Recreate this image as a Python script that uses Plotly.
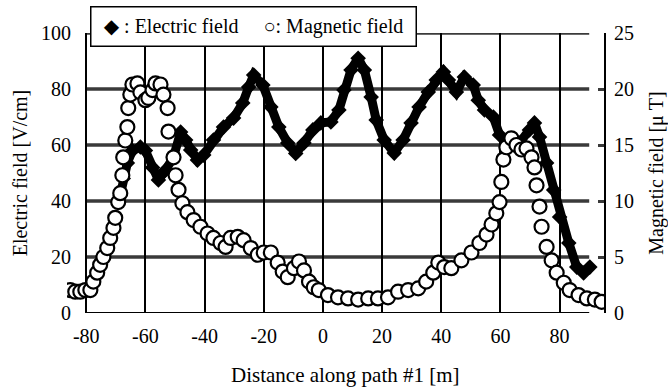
import plotly.graph_objects as go

# Electric field (left axis, V/cm)
e_x = [-68.5, -67.5, -66.1, -64.4, -61.7, -60.0, -57.6, -55.6, -53.2, -50.5, -48.1, -46.4,
       -44.7, -42.4, -40.3, -37.0, -33.6, -30.2, -27.1, -25.1, -23.4, -20.3, -17.6, -14.9,
       -11.9, -9.2, -6.4, -3.4, -0.7, 2.7, 5.4, 7.1, 9.5, 11.9, 14.0, 16.3, 18.0, 20.7,
       24.1, 27.1, 29.8, 32.5, 35.6, 38.3, 40.7, 42.4, 45.1, 47.8, 50.8, 52.5, 54.6, 57.6,
       59.7, 62.7, 66.4, 69.8, 71.5, 73.2, 75.6, 78.0, 80.0, 83.1, 85.8, 88.1, 90.2]
e_y = [42, 48, 53.6, 58, 59.3, 58, 52, 47.5, 51, 55.7, 64.6, 61.8,
       58.2, 54.6, 56.4, 61.8, 66.4, 69.6, 75, 80.7, 85, 81.4, 73.6, 66.4,
       60.7, 57, 60.7, 65.4, 67.9, 68.2, 72.5, 79.6, 86.8, 91, 86.8, 77.1, 68.9, 61.8,
       57.1, 61.8, 67.9, 73.6, 78.9, 83.2, 86.1, 83.2, 78.9, 84.3, 81.4, 76, 72.5, 70,
       63.6, 60.7, 60.7, 65.4, 67.9, 62.9, 53.6, 43.9, 34.3, 25, 16.4, 14.3, 16.4]

# Magnetic field (right axis, uT)
m_x = [-85.4, -83.7, -82.0, -80.3, -78.6, -77.6, -76.3, -75.3, -74.2, -72.9, -71.9, -70.8,
       -70.2, -69.2, -68.5, -67.8, -67.5, -66.8, -66.1, -65.8, -65.1, -64.4, -62.7, -61.7,
       -60.0, -59.0, -57.6, -56.6, -54.9, -53.9, -52.5, -52.2, -50.5, -49.8, -48.8, -47.5,
       -45.8, -43.7, -41.4, -39.0, -37.0, -34.6, -32.9, -31.2, -28.8, -26.8, -24.4, -22.0,
       -20.0, -17.6, -15.3, -13.6, -11.9, -9.8, -8.1, -6.4, -4.7, -3.1, -1.4, 1.7, 5.1,
       8.5, 11.9, 15.3, 18.6, 22.0, 25.4, 28.8, 32.2, 34.9, 37.3, 39.0, 41.0, 43.4, 46.8,
       50.2, 52.9, 55.3, 57.0, 58.6, 59.7, 60.3, 61.0, 62.0, 63.7, 65.4, 67.1, 68.8, 70.5,
       71.5, 72.2, 73.2, 73.9, 75.6, 77.3, 79.0, 81.4, 83.4, 86.4, 89.2, 91.9, 94.2]
m_y = [2.05, 1.9, 1.9, 2.05, 2.05, 2.8, 3.6, 4.3, 5.0, 5.8, 6.7, 7.6,
       8.5, 9.9, 10.7, 12.3, 13.9, 15.4, 16.6, 18.3, 19.5, 20.4, 20.5, 19.7,
       19.0, 19.2, 19.9, 20.5, 20.4, 19.5, 18.3, 16.2, 13.9, 12.3, 11.0, 9.8,
       9.0, 8.3, 7.7, 7.1, 6.7, 6.25, 5.9, 6.7, 6.8, 6.5, 5.8, 5.2,
       5.4, 5.4, 4.5, 3.7, 3.2, 4.0, 4.6, 3.8, 2.8, 2.3, 2.05, 1.6, 1.4,
       1.3, 1.2, 1.3, 1.3, 1.4, 1.9, 2.05, 2.2, 2.8, 3.6, 4.5, 4.1, 4.0, 4.7,
       5.4, 6.25, 7.0, 7.9, 8.9, 9.9, 11.7, 13.7, 14.8, 15.6, 15.0, 14.6, 14.7, 13.9,
       13.0, 11.4, 9.5, 7.7, 5.9, 4.7, 3.6, 2.7, 2.05, 1.6, 1.3, 1.2, 1.0]

x_ticks = [-80, -60, -40, -20, 0, 20, 40, 60, 80]
y_ticks = [0, 20, 40, 60, 80, 100]
y2_ticks = [0, 5, 10, 15, 20, 25]

FONT = "Liberation Serif, Times New Roman, DejaVu Serif, serif"
TF = dict(family=FONT, size=20, color="black")

fig = go.Figure()
fig.add_trace(go.Scatter(
    x=e_x, y=e_y, mode="lines+markers", name="Electric field",
    line=dict(color="black", width=9),
    marker=dict(symbol="diamond", size=12, color="black"),
    showlegend=False))
fig.add_trace(go.Scatter(
    x=m_x, y=m_y, mode="markers", name="Magnetic field", yaxis="y2",
    marker=dict(symbol="circle", size=14, color="white",
                line=dict(color="black", width=2.2)),
    showlegend=False))

# horizontal gridlines ending short of the right axis
for v in y_ticks[1:]:
    fig.add_shape(type="line", xref="x", yref="y", x0=-80, x1=90, y0=v, y1=v,
                  line=dict(color="#3a3a3a", width=3.5), layer="below")
fig.add_shape(type="line", xref="x", yref="y", x0=-80, x1=90, y0=0, y1=0,
              line=dict(color="black", width=2), layer="below")

fig.update_layout(
    width=668, height=392,
    margin=dict(l=67, r=64, t=33, b=79, autoexpand=False),
    paper_bgcolor="white", plot_bgcolor="white",
    font=dict(family=FONT, size=20, color="black"),
    xaxis=dict(range=[-86.5, 95], tickvals=x_ticks, ticktext=[str(t) for t in x_ticks],
               showgrid=True, gridcolor="black", gridwidth=2, zeroline=False,
               showline=False, ticks="", ticklabelstandoff=9, tickfont=TF,
               automargin=False),
    yaxis=dict(range=[0, 100], tickvals=y_ticks, showgrid=False, zeroline=False,
               showline=False, ticks="", ticklabelstandoff=-5, tickfont=TF,
               automargin=False,
               title=dict(text="Electric field [V/cm]", standoff=8, font=TF)),
    yaxis2=dict(range=[0, 25], tickvals=y2_ticks, overlaying="y", side="right",
                showgrid=False, zeroline=False, showline=True, linecolor="black",
                linewidth=2, ticks="inside", ticklen=6, tickwidth=3, tickcolor="#3a3a3a",
                ticklabelstandoff=4, tickfont=TF, automargin=False,
                title=dict(text="Magnetic field [\u03bc T]", standoff=36, font=TF)),
)

# x-axis title
fig.add_annotation(
    xref="paper", yref="paper", x=0.518, y=-0.221, xanchor="center", yanchor="middle",
    text="Distance along path #1 [m]", showarrow=False,
    font=dict(family=FONT, size=21, color="black"))

# legend box
fig.add_annotation(
    xref="paper", yref="paper", x=0.043, y=1.096, xanchor="left", yanchor="top",
    text="\u25c6 : Electric field     \u25cb: Magnetic field",
    width=316, height=30, align="center",
    showarrow=False, bgcolor="white", bordercolor="black", borderwidth=1.5,
    borderpad=4, font=TF)

fig.write_html("out.html")
